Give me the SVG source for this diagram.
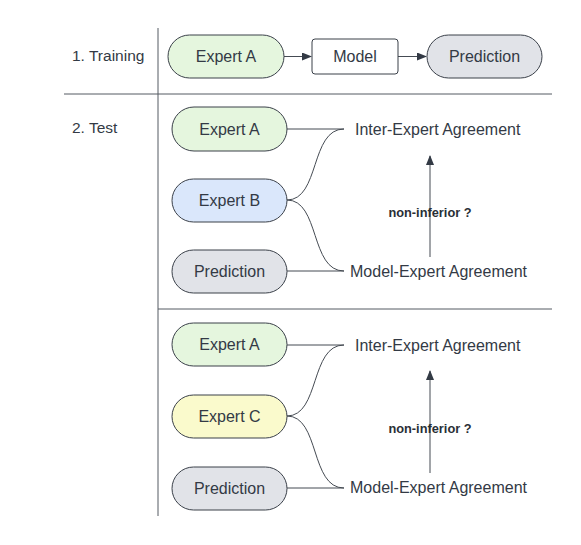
<svg xmlns="http://www.w3.org/2000/svg" width="581" height="545" viewBox="0 0 581 545">
<style>
.t{font-family:"Liberation Sans",Arial,sans-serif;font-size:16px;fill:#333a45}
.s{font-family:"Liberation Sans",Arial,sans-serif;font-size:15.5px;fill:#333a45}
.b{font-family:"Liberation Sans",Arial,sans-serif;font-size:12.8px;font-weight:bold;fill:#2a2f36}
.pill{stroke:#3a4049;stroke-width:1}
.g{fill:#e5f6de}.bl{fill:#dae7fb}.y{fill:#fafacc}.gr{fill:#e1e3e8}.w{fill:#fff}
.ln{stroke:#555b63;stroke-width:1;fill:none}
.c{stroke:#454b53;stroke-width:1;fill:none}
</style>
<defs>
<marker id="ah" markerWidth="10" markerHeight="8" refX="9" refY="4" orient="auto" markerUnits="userSpaceOnUse">
<path d="M0,0 L10,4 L0,8 Z" fill="#333a45"/>
</marker>
</defs>
<g id="grid">
<line class="ln" x1="158" y1="28" x2="158" y2="516"/>
<line class="ln" x1="64" y1="94" x2="552" y2="94"/>
<line class="ln" x1="158" y1="309" x2="552" y2="309"/>
</g>
<text class="s" x="72" y="61">1. Training</text>
<text class="s" x="72" y="133">2. Test</text>
<g id="connectors">
<line class="c" x1="284" y1="56.5" x2="311" y2="56.5" marker-end="url(#ah)"/>
<line class="c" x1="398" y1="56.5" x2="426" y2="56.5" marker-end="url(#ah)"/>
<line class="c" x1="287" y1="129" x2="344" y2="129"/>
<path class="c" d="M287,200 C320,200 310,129 344,129"/>
<path class="c" d="M287,200 C320,200 310,271 344,271"/>
<line class="c" x1="287" y1="271" x2="344" y2="271"/>
<line class="c" x1="430" y1="257" x2="430" y2="156" marker-end="url(#ah)"/>
<line class="c" x1="287" y1="345" x2="344" y2="345"/>
<path class="c" d="M287,416 C320,416 310,345 344,345"/>
<path class="c" d="M287,416 C320,416 310,488 344,488"/>
<line class="c" x1="287" y1="488" x2="344" y2="488"/>
<line class="c" x1="430" y1="473" x2="430" y2="371" marker-end="url(#ah)"/>
</g>
<g id="train-expertA"><rect class="pill g" x="168" y="35" width="116" height="43" rx="21.5"/><text class="t" x="226" y="62" text-anchor="middle">Expert A</text></g>
<g id="train-model"><rect class="pill w" x="312" y="39" width="86" height="35" rx="3"/><text class="t" x="355" y="62" text-anchor="middle">Model</text></g>
<g id="train-prediction"><rect class="pill gr" x="427" y="35" width="115" height="43" rx="21.5"/><text class="t" x="484.5" y="62" text-anchor="middle">Prediction</text></g>

<g id="t1-expertA"><rect class="pill g" x="172" y="107" width="115" height="44" rx="22"/><text class="t" x="229.5" y="134.5" text-anchor="middle">Expert A</text></g>
<g id="t1-expertB"><rect class="pill bl" x="172" y="179" width="115" height="43" rx="21.5"/><text class="t" x="229.5" y="206" text-anchor="middle">Expert B</text></g>
<g id="t1-prediction"><rect class="pill gr" x="172" y="250" width="115" height="43" rx="21.5"/><text class="t" x="229.5" y="277" text-anchor="middle">Prediction</text></g>
<g id="t1-inter"><text class="t" x="355" y="135">Inter-Expert Agreement</text></g>
<g id="t1-model"><text class="t" x="350" y="277">Model-Expert Agreement</text></g>
<text class="b" x="430" y="216.5" text-anchor="middle">non-inferior ?</text>

<g id="t2-expertA"><rect class="pill g" x="172" y="323" width="115" height="43" rx="21.5"/><text class="t" x="229.5" y="350" text-anchor="middle">Expert A</text></g>
<g id="t2-expertC"><rect class="pill y" x="172" y="395" width="115" height="43" rx="21.5"/><text class="t" x="229.5" y="422" text-anchor="middle">Expert C</text></g>
<g id="t2-prediction"><rect class="pill gr" x="172" y="467" width="115" height="43" rx="21.5"/><text class="t" x="229.5" y="494" text-anchor="middle">Prediction</text></g>
<g id="t2-inter"><text class="t" x="355" y="351">Inter-Expert Agreement</text></g>
<g id="t2-model"><text class="t" x="350" y="493">Model-Expert Agreement</text></g>
<text class="b" x="430" y="432.5" text-anchor="middle">non-inferior ?</text>
</svg>
